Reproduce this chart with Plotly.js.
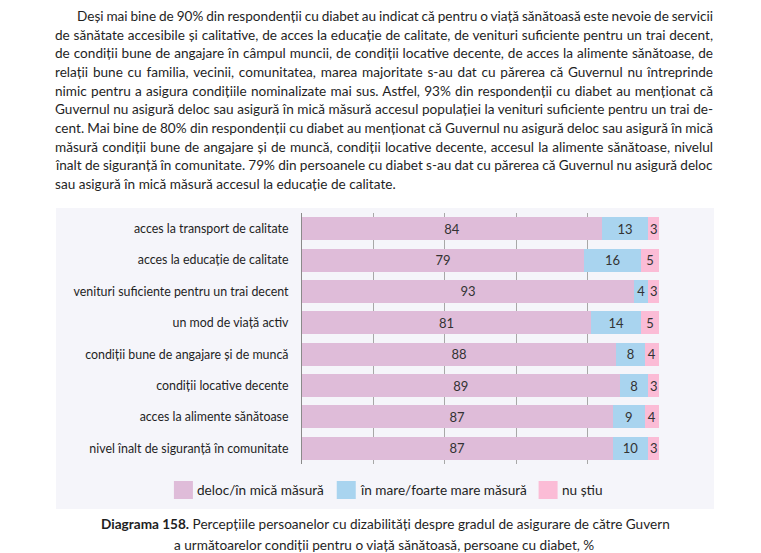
<!DOCTYPE html>
<html>
<head>
<meta charset="utf-8">
<script src="https://cdn.plot.ly/plotly-3.0.1.min.js"></script>
<style>
  html, body { margin: 0; padding: 0; background: #ffffff; }
  #chart { width: 761px; height: 553px; }
</style>
</head>
<body>
<div id="chart"></div>
<script>
// ---------- data ----------
const categories = [
  "acces la transport de calitate",
  "acces la educație de calitate",
  "venituri suficiente pentru un trai decent",
  "un mod de viață activ",
  "condiții bune de angajare și de muncă",
  "condiții locative decente",
  "acces la alimente sănătoase",
  "nivel înalt de siguranță în comunitate"
];
const delocValues = [84, 79, 93, 81, 88, 89, 87, 87];
const mareValues  = [13, 16, 4, 14, 8, 8, 9, 10];
const nuStiuValues = [3, 5, 3, 5, 4, 3, 4, 3];
const seriesNames = ["deloc/în mică măsură", "în mare/foarte mare măsură", "nu știu"];
const seriesColors = ["#dfbcd9", "#a9d4ef", "#fbbcd6"];

const paragraphLines = [
  "Deși mai bine de 90% din respondenții cu diabet au indicat că pentru o viață sănătoasă este nevoie de servicii",
  "de sănătate accesibile și calitative, de acces la educație de calitate, de venituri suficiente pentru un trai decent,",
  "de condiții bune de angajare în câmpul muncii, de condiții locative decente, de acces la alimente sănătoase, de",
  "relații bune cu familia, vecinii, comunitatea, marea majoritate s-au dat cu părerea că Guvernul nu întreprinde",
  "nimic pentru a asigura condițiile nominalizate mai sus. Astfel, 93% din respondenții cu diabet au menționat că",
  "Guvernul nu asigură deloc sau asigură în mică măsură accesul populației la venituri suficiente pentru un trai de-",
  "cent. Mai bine de 80% din respondenții cu diabet au menționat că Guvernul nu asigură deloc sau asigură în mică",
  "măsură condiții bune de angajare și de muncă, condiții locative decente, accesul la alimente sănătoase, nivelul",
  "înalt de siguranță în comunitate. 79% din persoanele cu diabet s-au dat cu părerea că Guvernul nu asigură deloc",
  "sau asigură în mică măsură accesul la educație de calitate."
];
const captionBold = "Diagrama 158.";
const captionLine1 = " Percepțiile persoanelor cu dizabilități despre gradul de asigurare de către Guvern";
const captionLine2 = "a următoarelor condiții pentru o viață sănătoasă, persoane cu diabet, %";

// ---------- layout geometry (pixels) ----------
const W = 761, H = 553;
const L = 302, R = 659, T = 213, B = 464;
const px = x => (x - L) / (R - L);
const py = y => (B - y) / (B - T);
const FONT = "Lato, 'Open Sans', sans-serif";
const TEXTC = "#1f1f1f";

const seriesValues = [delocValues, mareValues, nuStiuValues];
const traces = seriesValues.map((vals, i) => ({
  type: "bar",
  orientation: "h",
  name: seriesNames[i],
  y: categories,
  x: vals,
  text: vals.map(String),
  textposition: "inside",
  insidetextanchor: "middle",
  textangle: 0,
  constraintext: "none",
  textfont: { family: FONT, size: 13, color: "#333333" },
  marker: { color: seriesColors[i], line: { width: 0 } },
  hoverinfo: "skip",
  showlegend: false
}));

const annotations = [];
const shapes = [];

// background panel
shapes.push({
  type: "rect", xref: "paper", yref: "paper", layer: "below",
  x0: px(56), x1: px(714), y0: py(509), y1: py(208),
  fillcolor: "#f5f5fa", line: { width: 0 }
});

// paragraph
const lineTop = 16, lineStep = 18.67;
const paraLeft = 55, paraIndent = 77, paraRight = 713;
paragraphLines.forEach((t, i) => {
  annotations.push({
    xref: "paper", yref: "paper",
    x: px(i === 0 ? paraIndent : paraLeft), y: py(lineTop + i * lineStep),
    xanchor: "left", yanchor: "middle",
    text: t, showarrow: false,
    font: { family: FONT, size: 13.6, color: TEXTC }
  });
});

// caption
annotations.push({
  xref: "paper", yref: "paper", x: px(385), y: py(524),
  xanchor: "center", yanchor: "middle", showarrow: false,
  text: "<b>" + captionBold + "</b>" + captionLine1,
  font: { family: FONT, size: 13.6, color: TEXTC }
});
annotations.push({
  xref: "paper", yref: "paper", x: px(384), y: py(545),
  xanchor: "center", yanchor: "middle", showarrow: false,
  text: captionLine2,
  font: { family: FONT, size: 13.6, color: TEXTC }
});

// legend (custom, larger swatches) — laid out from measured text widths
const LEG_FONT_SIZE = 13.6;
const ctx = document.createElement("canvas").getContext("2d");
ctx.font = LEG_FONT_SIZE + "px Lato";
const sw = 19, swh = 18, swGap = 4, itemGap = 13, legY = 490, legCenter = 388;
const widths = seriesNames.map(n => ctx.measureText(n).width);
const total = widths.reduce((a, w) => a + sw + swGap + w, 0) + itemGap * (seriesNames.length - 1);
let cx = legCenter - total / 2;
seriesNames.forEach((n, i) => {
  shapes.push({
    type: "rect", xref: "paper", yref: "paper",
    x0: px(cx), x1: px(cx + sw), y0: py(legY + swh / 2), y1: py(legY - swh / 2),
    fillcolor: seriesColors[i], line: { width: 0 }
  });
  annotations.push({
    xref: "paper", yref: "paper", x: px(cx + sw + swGap - 1), y: py(legY),
    xanchor: "left", yanchor: "middle", showarrow: false, borderpad: 0,
    text: n, font: { family: FONT, size: LEG_FONT_SIZE, color: TEXTC }
  });
  cx += sw + swGap + widths[i] + itemGap;
});

const layout = {
  width: W, height: H,
  margin: { l: L, r: W - R, t: T, b: H - B, pad: 0 },
  paper_bgcolor: "#ffffff",
  plot_bgcolor: "rgba(0,0,0,0)",
  barmode: "stack",
  bargap: 0.265,
  showlegend: false,
  font: { family: FONT, color: TEXTC },
  xaxis: {
    range: [0, 100], dtick: 20, tick0: 0,
    showgrid: true, gridcolor: "#a8a8a8", gridwidth: 1,
    zeroline: false, showticklabels: false, ticks: "",
    showline: false, fixedrange: true
  },
  yaxis: {
    autorange: "reversed", type: "category",
    showline: true, linecolor: "#8a8a8a", linewidth: 1,
    ticks: "", ticklabelstandoff: 10,
    tickfont: { family: FONT, size: 12.4, color: TEXTC },
    showgrid: false, zeroline: false, fixedrange: true
  },
  shapes: shapes,
  annotations: annotations
};

Plotly.newPlot("chart", traces, layout, { displayModeBar: false, staticPlot: true }).then(() => {
  // justify paragraph lines (all but the last) between the left and right edges
  const groups = document.querySelectorAll("#chart .annotation");
  groups.forEach(g => {
    const idx = +g.getAttribute("data-index");
    if (idx >= paragraphLines.length) return;
    const txt = g.querySelector("text.annotation-text");
    if (!txt) return;
    const leftTarget = idx === 0 ? paraIndent : paraLeft;
    const before = txt.getBoundingClientRect();
    const spaces = (paragraphLines[idx].match(/ /g) || []).length;
    if (idx < paragraphLines.length - 1 && spaces > 0) {
      txt.style.wordSpacing = ((paraRight - leftTarget - before.width) / spaces) + "px";
    }
    const after = txt.getBoundingClientRect();
    const dx = leftTarget - after.left;
    const prev = txt.getAttribute("transform") || "";
    txt.setAttribute("transform", prev + " translate(" + dx + ",0)");
  });
});
</script>
</body>
</html>
